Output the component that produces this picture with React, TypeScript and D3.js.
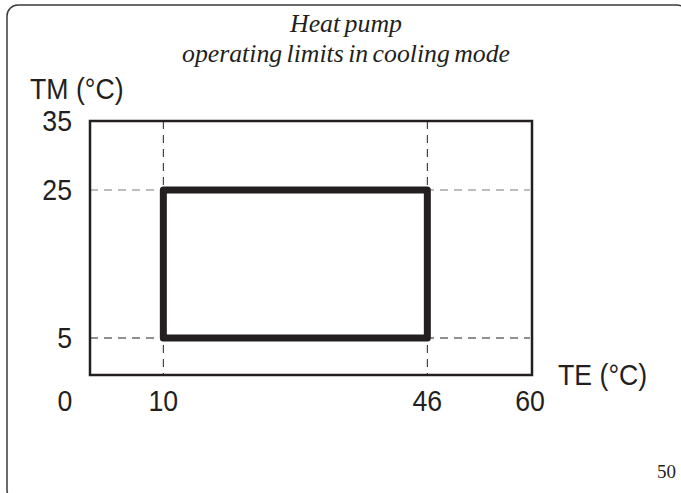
import React from "react";
import * as d3 from "d3";

const xTicks = [10, 46, 60];
const yTicks = [5, 25, 35];
const originLabel = "0";
const envelopeTE = [10, 46];
const envelopeTM = [5, 25];
const xDomain = [0, 60];
const yDomain = [0, 5, 25, 35];
const titleLines = ["Heat pump", "operating limits in cooling mode"];
const titleWidths = [112, 328];
const xAxisTitle = "TE (°C)";
const yAxisTitle = "TM (°C)";
const pageNumber = "50";

export default function App() {
  const W = 681, H = 493;
  const x = d3.scaleLinear().domain(xDomain).range([90, 530]);
  const y = d3.scaleLinear().domain(yDomain).range([375, 338, 190, 121]);
  const x0 = x(xDomain[0]), x1 = x(xDomain[1]);
  const y0 = y(yDomain[0]), y1 = y(yDomain[yDomain.length - 1]);
  const sans = "'Liberation Sans', Arial, sans-serif";
  const serif = "'Liberation Serif', 'Times New Roman', serif";
  const ink = "#231f20";
  const fs = 29;
  const sx = 0.92;
  const rectPath = d3.line()([
    [x(envelopeTE[0]), y(envelopeTM[0])],
    [x(envelopeTE[1]), y(envelopeTM[0])],
    [x(envelopeTE[1]), y(envelopeTM[1])],
    [x(envelopeTE[0]), y(envelopeTM[1])],
  ]) + "Z";
  const Label = ({ px, py, anchor, children }: any) => (
    <text transform={`translate(${px},${py}) scale(${sx},1)`} textAnchor={anchor} fontFamily={sans} fontSize={fs} fill={ink}>{children}</text>
  );
  return (
    <svg width={W} height={H} style={{ position: "absolute", left: 0, top: 0, background: "#fff" }}>
      <rect x={7} y={5} width={681} height={496} rx={11} fill="none" stroke="#3a3a3a" strokeWidth={1.5} />
      {titleLines.map((t, i) => (
        <text key={i} x={346} y={32 + i * 30} textAnchor="middle" fontFamily={serif} fontStyle="italic" fontSize={25} fill={ink} wordSpacing={-2} textLength={titleWidths[i]} lengthAdjust="spacingAndGlyphs">{t}</text>
      ))}
      <Label px={30} py={99} anchor="start">{yAxisTitle}</Label>
      <Label px={558} py={385} anchor="start">{xAxisTitle}</Label>
      {envelopeTE.map((v) => (
        <line key={"vx" + v} x1={x(v)} x2={x(v)} y1={y1} y2={y0} stroke={ink} strokeWidth={1} strokeDasharray="8,6" />
      ))}
      {envelopeTM.map((v, i) => (
        <line key={"hy" + v} x1={x0} x2={x1} y1={y(v)} y2={y(v)} stroke={i === 1 ? "#7a7a7a" : ink} strokeWidth={1.2} strokeDasharray="8,6" />
      ))}
      <rect x={x0} y={y1} width={x1 - x0 + 2} height={y0 - y1} fill="none" stroke={ink} strokeWidth={2.5} />
      <path d={rectPath} fill="none" stroke={ink} strokeWidth={7} strokeLinejoin="round" />
      {yTicks.map((v) => (
        <Label key={"yt" + v} px={72} py={y(v) + 10} anchor="end">{v}</Label>
      ))}
      <Label px={65} py={411} anchor="middle">{originLabel}</Label>
      {xTicks.map((v) => (
        <Label key={"xt" + v} px={x(v)} py={411} anchor="middle">{v}</Label>
      ))}
      <text x={676} y={478} textAnchor="end" fontFamily={serif} fontSize={19} fill={ink}>{pageNumber}</text>
    </svg>
  );
}
